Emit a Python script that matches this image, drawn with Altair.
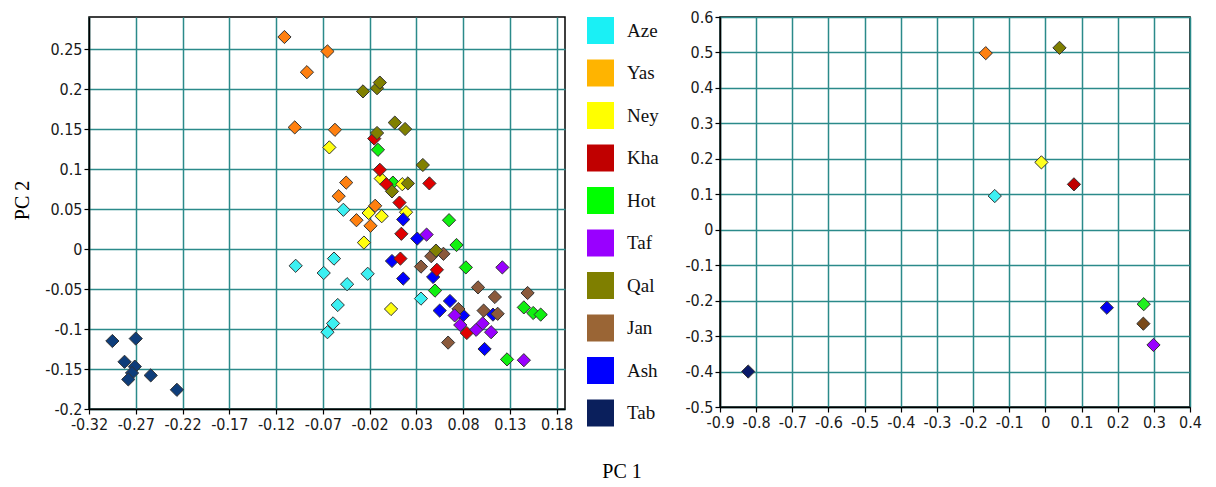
import altair as alt
import pandas as pd

# ---------------- data ----------------
pops = ["Aze", "Yas", "Ney", "Kha", "Hot", "Taf", "Qal", "Jan", "Ash", "Tab"]
draw_order = ["Aze", "Yas", "Hot", "Ney", "Ash", "Kha", "Jan", "Taf", "Qal", "Tab"]

legend_colors = ["#1AF0F5", "#FFB400", "#FFFF00", "#C00000", "#00FF00",
                 "#9900FF", "#7F7F00", "#9A6535", "#0000FF", "#0A1F5C"]
left_colors = ["#3CF0F2", "#FF8010", "#FFFF10", "#E00000", "#10F010",
               "#9900FF", "#808000", "#8B5A3C", "#0000FF", "#0E3D7A"]
right_colors = ["#3CF0F2", "#FF8010", "#FFFF20", "#C00000", "#20F020",
                "#9900FF", "#7F7F00", "#7A4A1A", "#0000F0", "#0A1A6A"]

# left panel (individuals)
aze_pc1 = [-0.048, -0.099, -0.058, -0.069, -0.022, -0.044, -0.054, -0.059, -0.065, 0.035]
aze_pc2 = [0.049, -0.021, -0.012, -0.030, -0.031, -0.044, -0.070, -0.093, -0.104, -0.062]
yas_pc1 = [-0.111, -0.065, -0.087, -0.100, -0.057, -0.045, -0.053, -0.034, -0.014, -0.019]
yas_pc2 = [0.265, 0.247, 0.221, 0.152, 0.149, 0.083, 0.066, 0.036, 0.054, 0.029]
ney_pc1 = [-0.063, -0.008, 0.015, -0.021, -0.007, 0.019, -0.026, 0.003]
ney_pc2 = [0.127, 0.088, 0.081, 0.045, 0.041, 0.046, 0.008, -0.075]
kha_pc1 = [-0.015, -0.009, -0.002, 0.012, 0.014, 0.013, 0.044, 0.052, 0.084]
kha_pc2 = [0.138, 0.099, 0.081, 0.058, 0.019, -0.012, 0.082, -0.026, -0.105]
hot_pc1 = [-0.011, 0.005, 0.065, 0.073, 0.083, 0.050, 0.145, 0.155, 0.163, 0.127]
hot_pc2 = [0.124, 0.083, 0.036, 0.005, -0.023, -0.052, -0.073, -0.080, -0.082, -0.138]
taf_pc1 = [0.041, 0.122, 0.071, 0.077, 0.094, 0.101, 0.110, 0.145]
taf_pc2 = [0.018, -0.023, -0.083, -0.095, -0.101, -0.093, -0.104, -0.139]
qal_pc1 = [-0.027, -0.012, -0.009, -0.012, 0.007, 0.018, 0.037, 0.021, 0.004, 0.051]
qal_pc2 = [0.197, 0.201, 0.208, 0.145, 0.158, 0.150, 0.105, 0.082, 0.072, -0.002]
jan_pc1 = [0.035, 0.046, 0.059, 0.096, 0.114, 0.149, 0.102, 0.117, 0.075, 0.064]
jan_pc2 = [-0.022, -0.009, -0.006, -0.048, -0.060, -0.055, -0.077, -0.081, -0.075, -0.117]
ash_pc1 = [0.016, 0.031, 0.004, 0.016, 0.048, 0.066, 0.055, 0.080, 0.112, 0.103]
ash_pc2 = [0.037, 0.013, -0.015, -0.037, -0.035, -0.065, -0.077, -0.083, -0.082, -0.125]
tab_pc1 = [-0.295, -0.270, -0.282, -0.271, -0.274, -0.278, -0.254, -0.226]
tab_pc2 = [-0.115, -0.112, -0.141, -0.147, -0.155, -0.163, -0.158, -0.176]

# right panel (population means)
mean_pc1 = [-0.140, -0.165, -0.011, 0.079, 0.272, 0.299, 0.039, 0.271, 0.170, -0.822]
mean_pc2 = [0.095, 0.498, 0.190, 0.128, -0.210, -0.325, 0.513, -0.265, -0.220, -0.400]

left_x_ticks = [-0.32, -0.27, -0.22, -0.17, -0.12, -0.07, -0.02, 0.03, 0.08, 0.13, 0.18]
left_y_ticks = [-0.2, -0.15, -0.1, -0.05, 0, 0.05, 0.1, 0.15, 0.2, 0.25]
right_x_ticks = [-0.9, -0.8, -0.7, -0.6, -0.5, -0.4, -0.3, -0.2, -0.1, 0, 0.1, 0.2, 0.3, 0.4]
right_y_ticks = [-0.5, -0.4, -0.3, -0.2, -0.1, 0, 0.1, 0.2, 0.3, 0.4, 0.5, 0.6]

# ---------------- tables ----------------
pc1_by_pop = dict(zip(pops, [aze_pc1, yas_pc1, ney_pc1, kha_pc1, hot_pc1,
                             taf_pc1, qal_pc1, jan_pc1, ash_pc1, tab_pc1]))
pc2_by_pop = dict(zip(pops, [aze_pc2, yas_pc2, ney_pc2, kha_pc2, hot_pc2,
                             taf_pc2, qal_pc2, jan_pc2, ash_pc2, tab_pc2]))
rows = []
for p in draw_order:
    for a, b in zip(pc1_by_pop[p], pc2_by_pop[p]):
        rows.append({"pop": p, "pc1": a, "pc2": b})
left_df = pd.DataFrame(rows)
right_df = pd.DataFrame({"pop": pops, "pc1": mean_pc1, "pc2": mean_pc2})
legend_df = pd.DataFrame({"pop": pops})

# marker fill scale uses the drawing order as its domain (so that its hidden
# legend is not merged with the visible swatch legend, which uses `pops`)
left_color_of = dict(zip(pops, left_colors))
left_fill_range = [left_color_of[p] for p in draw_order]

LABEL_FONT = "Liberation Sans Narrow, DejaVu Sans Condensed, Liberation Sans, Arial"
SERIF = "Liberation Serif"


def axis(values, title=None, **kw):
    return alt.Axis(values=values, labelExpr="toString(datum.value)", title=title,
                    labelFlush=False, labelOverlap=False, **kw)


marker = dict(shape="diamond", filled=True, size=175, stroke="#333333",
              strokeWidth=1, opacity=1)

left_points = alt.Chart(left_df).mark_point(**marker).encode(
    x=alt.X("pc1:Q", scale=alt.Scale(domain=[-0.32, 0.189], nice=False, zero=False),
            axis=axis(left_x_ticks)),
    y=alt.Y("pc2:Q", scale=alt.Scale(domain=[-0.2, 0.29], nice=False, zero=False),
            axis=axis(left_y_ticks, title="PC 2", titleFont=SERIF, titleFontSize=20,
                      titleFontWeight="normal", titleColor="#000", titlePadding=12,
                      titleY=183)),
    fill=alt.Fill("pop:N", scale=alt.Scale(domain=draw_order, range=left_fill_range),
                  legend=None),
)

# invisible layer that only carries the legend (swatch colours)
legend_layer = alt.Chart(legend_df).mark_square(filled=True, opacity=0, size=1).encode(
    color=alt.Color("pop:N", scale=alt.Scale(domain=pops, range=legend_colors),
                    legend=alt.Legend(title=None, orient="right", offset=22,
                                      symbolType="square", symbolSize=729,
                                      symbolStrokeWidth=0, symbolOpacity=1,
                                      labelFont=SERIF, labelFontSize=19,
                                      labelColor="#111", labelOffset=13,
                                      rowPadding=15.5, padding=0)),
)

left = alt.layer(left_points, legend_layer).properties(width=476, height=392)

right = alt.Chart(right_df).mark_point(**marker).encode(
    x=alt.X("pc1:Q", scale=alt.Scale(domain=[-0.9, 0.4], nice=False, zero=False),
            axis=axis(right_x_ticks)),
    y=alt.Y("pc2:Q", scale=alt.Scale(domain=[-0.5, 0.6], nice=False, zero=False),
            axis=axis(right_y_ticks)),
    fill=alt.Fill("pop:N", scale=alt.Scale(domain=pops, range=right_colors), legend=None),
).properties(width=470, height=390)

chart = alt.hconcat(left, right, spacing=155, bounds="flush").resolve_scale(
    color="independent", fill="independent"
).resolve_legend(color="independent", fill="independent").properties(
    title=alt.TitleParams("PC 1", orient="bottom", anchor="middle", font=SERIF,
                          fontSize=20, fontWeight="normal", color="#000",
                          offset=29, dx=15),
    padding={"left": 4, "top": 0, "right": 5, "bottom": 5},
).configure_view(stroke="#000", strokeWidth=1.5).configure_axis(
    gridColor="#2b8a8a", gridWidth=1.5, gridOpacity=1,
    domainColor="#000", domainWidth=1.5,
    tickColor="#000", tickSize=5, tickWidth=1.2,
    labelFont=LABEL_FONT, labelFontSize=16, labelColor="#1a1a1a", labelPadding=2,
)

chart.save("out.html", embed_options={"renderer": "svg", "actions": False})
